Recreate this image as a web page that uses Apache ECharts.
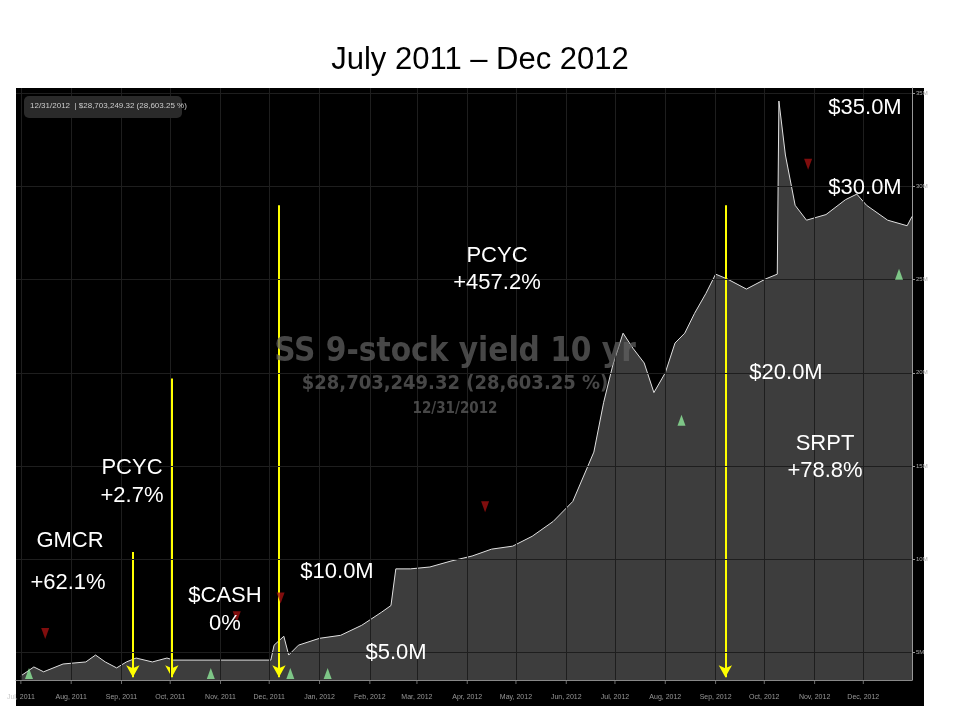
<!DOCTYPE html><html><head><meta charset="utf-8">
<script src="https://cdn.jsdelivr.net/npm/echarts@6/dist/echarts.min.js"></script>
<style>html,body{margin:0;background:#fff}#c{width:960px;height:720px}</style></head><body><div id="c"></div>
<script>
const dates=['2011-07-01','2011-07-09','2011-07-15','2011-07-27','2011-08-10','2011-08-16','2011-08-22','2011-08-29','2011-09-04','2011-09-10','2011-09-20','2011-09-29','2011-10-03','2011-12-02','2011-12-04','2011-12-10','2011-12-13','2011-12-19','2012-01-01','2012-01-14','2012-01-27','2012-02-08','2012-02-14','2012-02-17','2012-02-26','2012-03-09','2012-03-22','2012-04-04','2012-04-16','2012-04-29','2012-05-11','2012-05-24','2012-06-05','2012-06-18','2012-06-24','2012-06-30','2012-07-06','2012-07-12','2012-07-19','2012-07-25','2012-08-01','2012-08-07','2012-08-13','2012-08-19','2012-08-26','2012-09-01','2012-09-08','2012-09-20','2012-10-02','2012-10-09','2012-10-10','2012-10-14','2012-10-20','2012-10-27','2012-11-08','2012-11-20','2012-11-27','2012-12-03','2012-12-16','2012-12-28','2012-12-31'];
const values=[3.72,4.2,3.94,4.36,4.47,4.84,4.47,4.15,4.47,4.68,4.47,4.68,4.57,4.57,5.37,5.85,4.84,5.37,5.74,5.9,6.44,7.13,7.5,9.47,9.47,9.57,9.89,10.16,10.53,10.69,11.22,12.02,13.09,15.74,18.4,20.53,22.13,21.33,20.53,18.94,20.0,21.6,22.13,23.19,24.26,25.3,25.05,24.5,25.05,25.3,34.6,31.7,29.0,28.2,28.5,29.3,29.6,29.0,28.2,27.9,28.4];
const buyDates=['2011-07-06','2011-10-26','2011-12-14','2012-01-06','2012-08-11','2012-12-23'];
const buyValues=[3.85,3.85,3.85,3.85,17.45,25.3];
const sellDates=['2011-07-16','2011-11-11','2011-12-08','2012-04-12','2012-10-28'];
const sellValues=[6.0,6.9,7.9,12.8,31.2];
const arrowDates=['2011-09-08','2011-10-02','2011-12-07','2012-09-07'];
const arrowTops=[10.37,19.7,29.0,29.0];
const yTicks=[5,10,15,20,25,30,35];
const monthTicks=['2011-07-01','2011-08-01','2011-09-01','2011-10-01','2011-11-01','2011-12-01','2012-01-01','2012-02-01','2012-03-01','2012-04-01','2012-05-01','2012-06-01','2012-07-01','2012-08-01','2012-09-01','2012-10-01','2012-11-01','2012-12-01'];
const t=d=>+new Date(d+'T00:00:00Z');
const ch=echarts.init(document.getElementById('c'));
const W='#fff',F='Liberation Sans, Arial, sans-serif';
const txt=(x,y,s,extra)=>({type:'text',x:x,y:y,style:Object.assign({text:s,fill:W,font:'22px '+F,align:'center',verticalAlign:'middle'},extra||{}),z:100});
const MN=['Jan','Feb','Mar','Apr','May','Jun','Jul','Aug','Sep','Oct','Nov','Dec'];
const YMIN=3.5;
const WM='rgba(95,95,95,0.75)',WF="'DejaVu Sans Condensed',sans-serif";
ch.setOption({
 backgroundColor:'#fff',animation:false,
 graphic:[
  {type:'rect',shape:{x:16,y:88,width:908,height:618},style:{fill:'#000'},z:-10},
  txt(480,60,'July 2011 – Dec 2012',{fill:'#000',font:'31px '+F}),
  {type:'rect',shape:{x:24,y:96,width:158,height:22,r:5},style:{fill:'#2a2a2a'},z:50},
  {type:'text',x:30,y:102,style:{text:'12/31/2012  | $28,703,249.32 (28,603.25 %)',fill:'#ccc',font:'8px '+F},z:51},
  txt(455,352,'SS 9-stock yield 10 yr',{fill:WM,font:'bold 33px '+WF}),
  txt(455,384,'$28,703,249.32 (28,603.25 %)',{fill:WM,font:'bold 20px '+WF}),
  txt(455,409,'12/31/2012',{fill:WM,font:'bold 15px '+WF}),
  txt(865,108,'$35.0M'),txt(865,188,'$30.0M'),
  txt(497,256,'PCYC'),txt(497,283,'+457.2%'),
  txt(786,373,'$20.0M'),txt(825,444,'SRPT'),txt(825,471,'+78.8%'),
  txt(132,468,'PCYC'),txt(132,496,'+2.7%'),
  txt(70,541,'GMCR'),txt(68,583,'+62.1%'),
  txt(337,572,'$10.0M'),txt(225,596,'$CASH'),txt(225,624,'0%'),
  txt(396,653,'$5.0M')
 ],
 grid:{left:16,right:48,top:88,bottom:40},
 xAxis:{type:'time',min:t('2011-06-28'),max:t('2012-12-31'),
  axisLine:{lineStyle:{color:'#888'}},axisTick:{show:false},axisLabel:{show:false},splitLine:{show:false}},
 yAxis:{type:'value',position:'right',min:YMIN,max:35.3,
  axisLine:{show:true,lineStyle:{color:'#999'}},axisTick:{show:true,length:3,customValues:yTicks,lineStyle:{color:'#999'}},
  splitLine:{show:false},
  axisLabel:{color:'#aaa',fontSize:6,fontFamily:F,margin:4,customValues:yTicks,formatter:v=>v+'M'}},
 series:[
  {type:'line',data:dates.map((d,i)=>[t(d),values[i]]),symbol:'none',
   lineStyle:{color:'#e0e0e0',width:1},areaStyle:{color:'#3d3d3d',opacity:1},z:3,
   markLine:{silent:true,symbol:['none','arrow'],symbolSize:[10,12],label:{show:false},
    lineStyle:{color:'#ffff00',width:2,type:'solid'},
    data:arrowDates.map((d,i)=>[{coord:[t(d),arrowTops[i]]},{coord:[t(d),3.65]}])}},
  {type:'line',data:monthTicks.map(d=>[t(d),YMIN]),symbol:'none',lineStyle:{width:0},silent:true,z:2,
   markLine:{silent:true,symbol:'none',label:{show:false},lineStyle:{color:'#1e1e1e',width:1,type:'solid'},
    data:monthTicks.map(d=>({xAxis:t(d)})).concat(yTicks.map(v=>({yAxis:v})))}},
  {type:'scatter',data:monthTicks.map(d=>[t(d),YMIN]),symbol:'rect',symbolSize:[1,4],symbolOffset:[0,2],itemStyle:{color:'#888'},clip:false,silent:true,z:4,
   label:{show:true,position:'bottom',distance:10,color:'#bbb',fontSize:7,fontFamily:F,formatter:p=>{const d=new Date(p.value[0]);return MN[d.getUTCMonth()]+', '+d.getUTCFullYear();}}},
  {type:'scatter',data:buyDates.map((d,i)=>[t(d),buyValues[i]]),symbol:'triangle',symbolSize:[8,11],itemStyle:{color:'#8ee89a'},z:6},
  {type:'scatter',data:sellDates.map((d,i)=>[t(d),sellValues[i]]),symbol:'triangle',symbolRotate:180,symbolSize:[8,11],itemStyle:{color:'#a01010'},z:6}
 ]
});
</script></body></html>
